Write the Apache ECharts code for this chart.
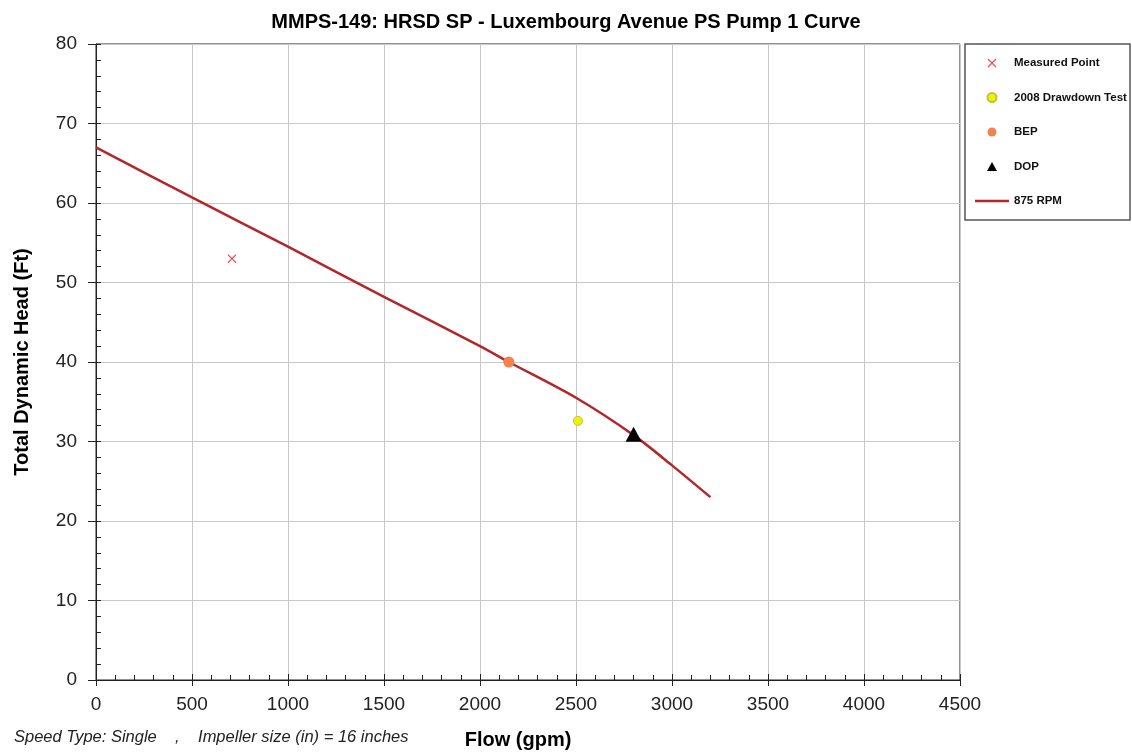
<!DOCTYPE html>
<html>
<head>
<meta charset="utf-8">
<script src="https://cdn.jsdelivr.net/npm/echarts@6/dist/echarts.min.js"></script>
<style>
  html, body { margin: 0; padding: 0; background: #fff; }
  #pump_curve_0 { width: 1132px; height: 755px; }
</style>
</head>
<body>
<div id="pump_curve_0"></div>
<script>
// pump curve, 875 RPM
var curveFlow = [0, 500, 1000, 1500, 2000, 2150, 2500, 2800, 3000, 3200];
var curveHead = [67, 60.7, 54.5, 48.2, 42.0, 40.0, 35.5, 30.8, 27.0, 23.0];

// single points
var measuredPoint = [708, 53];
var drawdownPoint = [2510, 32.6];
var bepPoint = [2150, 40];
var dopPoint = [2800, 30.9];

var xTicks = [0, 4500, 500];   // min, max, interval
var yTicks = [0, 80, 10];

var legendNames = ['Measured Point', '2008 Drawdown Test', 'BEP', 'DOP', '875 RPM'];

var FONT = '"Liberation Sans", Arial, sans-serif';
var CROSS = 'path://M0,1L1,0L5,4L9,0L10,1L6,5L10,9L9,10L5,6L1,10L0,9L4,5Z';
var TRI = 'path://M5,0L10,9L0,9Z';
var LINEICON = 'path://M0,0L34,0L34,2.5L0,2.5Z';

function loadPumpCurve() {
	var chart = echarts.init(document.getElementById('pump_curve_0'));

	var curveData = [];
	for (var i = 0; i < curveFlow.length; i++) {
		curveData.push([curveFlow[i], curveHead[i]]);
	}

	var option = {
		backgroundColor: '#fff',
		animation: false,
		textStyle: { fontFamily: FONT },
		title: {
			text: 'MMPS-149: HRSD SP - Luxembourg Avenue PS Pump 1 Curve',
			left: 'center',
			top: 7,
			textStyle: { fontSize: 20, fontWeight: 'bold', color: '#000', fontFamily: FONT }
		},
		grid: {
			left: 96, right: 172, top: 44, bottom: 75,
			show: true, borderColor: '#222', borderWidth: 1
		},
		legend: {
			orient: 'vertical',
			left: 970,
			top: 51,
			itemWidth: 34,
			itemHeight: 9,
			itemGap: 20.5,
			itemTextGap: 4,
			textStyle: { fontSize: 11.5, fontWeight: 'bold', color: '#111', lineHeight: 14, fontFamily: FONT },
			data: [
				{ name: legendNames[0], icon: CROSS },
				{ name: legendNames[1], icon: 'circle' },
				{ name: legendNames[2], icon: 'circle' },
				{ name: legendNames[3], icon: TRI },
				{ name: legendNames[4], icon: LINEICON }
			]
		},
		graphic: [
			{
				type: 'rect',
				shape: { x: 965, y: 44, width: 165, height: 176 },
				style: { fill: 'none', stroke: '#555', lineWidth: 1.5 }
			},
			{
				type: 'text',
				left: 14,
				top: 729,
				style: {
					text: 'Speed Type: Single    ,    Impeller size (in) = 16 inches',
					font: 'italic 16.5px ' + FONT,
					fill: '#222'
				}
			}
		],
		xAxis: [
			{
				type: 'value',
				min: xTicks[0], max: xTicks[1], interval: xTicks[2],
				name: 'Flow (gpm)',
				nameLocation: 'middle',
				nameGap: 50,
				nameTextStyle: { fontSize: 20, fontWeight: 'bold', color: '#000', fontFamily: FONT, padding: [0, 20, 0, 0] },
				axisLine: { lineStyle: { color: '#222' } },
				axisTick: { show: true, length: 6, lineStyle: { color: '#222' } },
				axisLabel: { fontSize: 19, color: '#222', margin: 15, formatter: function (v) { return String(v); } },
				splitLine: { show: true, lineStyle: { color: '#c8c8c8' } }
			},
			{
				type: 'value',
				position: 'bottom',
				min: xTicks[0], max: xTicks[1], interval: xTicks[2],
				axisLine: { show: false },
				axisTick: { show: true, inside: true, length: 6, lineStyle: { color: '#222' } },
				minorTick: { show: true, splitNumber: 5, length: 5, lineStyle: { color: '#222' } },
				axisLabel: { show: false },
				splitLine: { show: false }
			}
		],
		yAxis: [
			{
				type: 'value',
				min: yTicks[0], max: yTicks[1], interval: yTicks[2],
				name: 'Total Dynamic Head (Ft)',
				nameLocation: 'middle',
				nameGap: 64,
				nameTextStyle: { fontSize: 20, fontWeight: 'bold', color: '#000', fontFamily: FONT },
				axisLine: { show: true, lineStyle: { color: '#222' } },
				axisTick: { show: true, length: 8, lineStyle: { color: '#222' } },
				axisLabel: { fontSize: 19, color: '#222', margin: 19 },
				splitLine: { show: true, lineStyle: { color: '#c8c8c8' } }
			},
			{
				type: 'value',
				position: 'left',
				min: yTicks[0], max: yTicks[1], interval: yTicks[2],
				axisLine: { show: false },
				axisTick: { show: true, inside: true, length: 5, lineStyle: { color: '#222' } },
				minorTick: { show: true, splitNumber: 5, length: 5, lineStyle: { color: '#222' } },
				axisLabel: { show: false },
				splitLine: { show: false }
			}
		],
		series: [
			{
				name: legendNames[4],
				type: 'line',
				data: curveData,
				smooth: 0.3,
				symbol: 'none',
				lineStyle: { color: '#b3262a', width: 2.5 },
				itemStyle: { color: '#b3262a' },
				z: 2
			},
			{
				name: legendNames[0],
				type: 'scatter',
				data: [measuredPoint],
				symbol: CROSS,
				symbolSize: 9,
				itemStyle: { color: '#f25050', opacity: 1 },
				z: 3
			},
			{
				name: legendNames[1],
				type: 'scatter',
				data: [drawdownPoint],
				symbol: 'circle',
				symbolSize: 9,
				itemStyle: { color: '#f2f200', borderColor: '#b8c840', borderWidth: 1, opacity: 1 },
				z: 3
			},
			{
				name: legendNames[2],
				type: 'scatter',
				data: [bepPoint],
				symbol: 'circle',
				symbolSize: 11,
				itemStyle: { color: '#f5824c', opacity: 1 },
				z: 3
			},
			{
				name: legendNames[3],
				type: 'scatter',
				data: [dopPoint],
				symbol: TRI,
				symbolSize: [16, 15],
				itemStyle: { color: '#000', opacity: 1 },
				z: 3
			}
		]
	};

	chart.setOption(option);
}

loadPumpCurve();
</script>
</body>
</html>
